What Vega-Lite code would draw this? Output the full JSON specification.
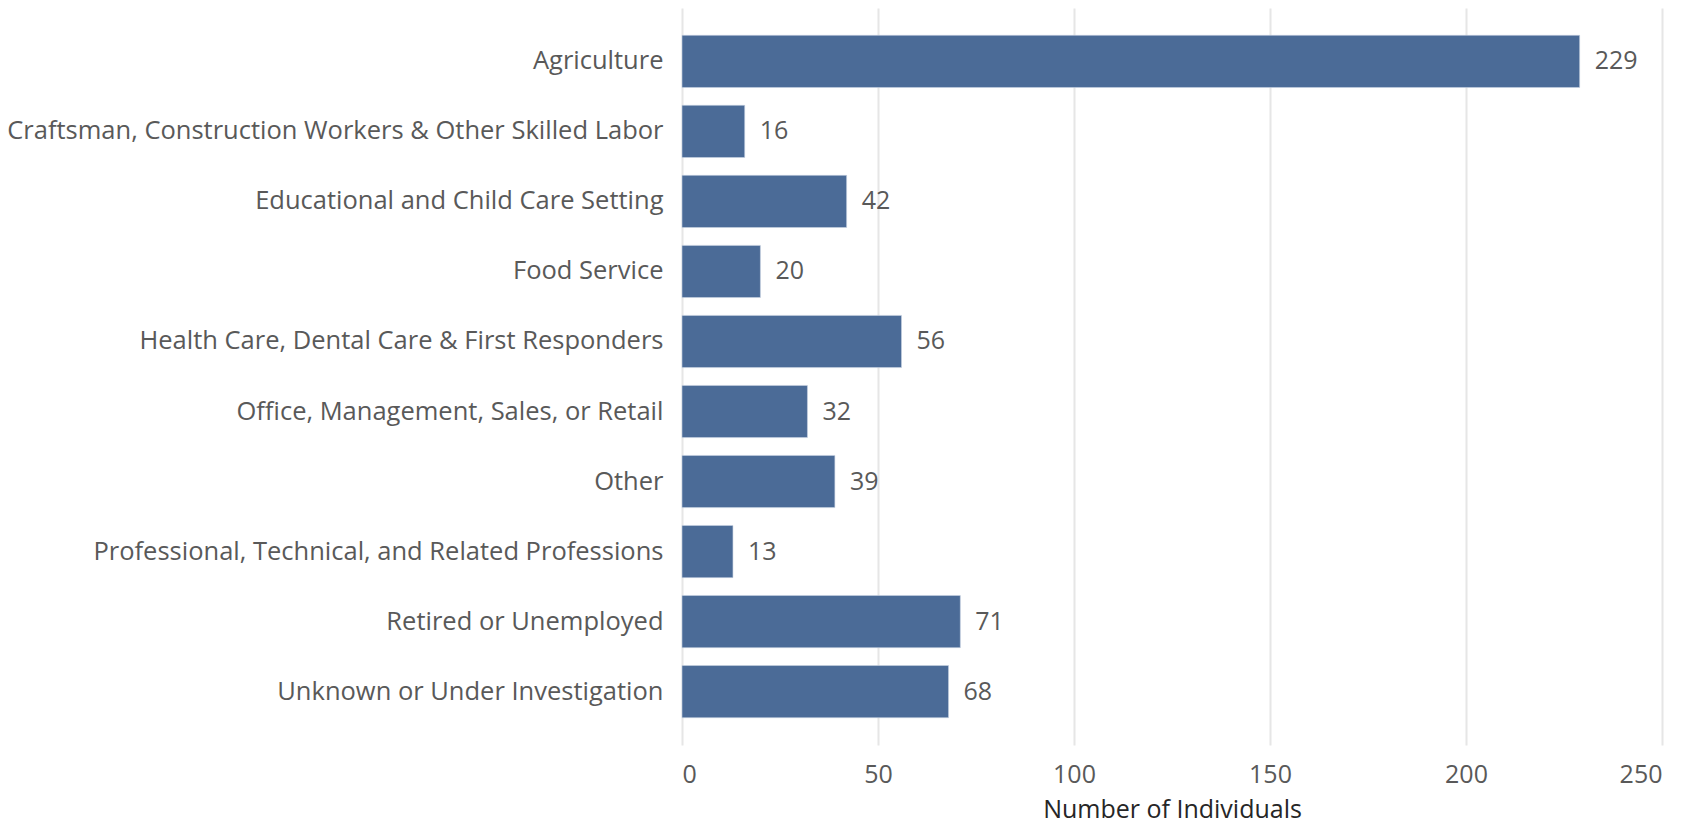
{
  "$schema": "https://vega.github.io/schema/vega-lite/v6.json",
  "autosize": {"type": "none"},
  "padding": {"left": 682, "top": 8, "right": 38, "bottom": 80},
  "width": 980,
  "height": 737,
  "background": "white",
  "config": {
    "view": {"stroke": null},
    "font": "Open Sans"
  },
  "data": {
    "values": [
      {"category": "Agriculture", "count": 229},
      {"category": "Craftsman, Construction Workers & Other Skilled Labor", "count": 16},
      {"category": "Educational and Child Care Setting", "count": 42},
      {"category": "Food Service", "count": 20},
      {"category": "Health Care, Dental Care & First Responders", "count": 56},
      {"category": "Office, Management, Sales, or Retail", "count": 32},
      {"category": "Other", "count": 39},
      {"category": "Professional, Technical, and Related Professions", "count": 13},
      {"category": "Retired or Unemployed", "count": 71},
      {"category": "Unknown or Under Investigation", "count": 68}
    ]
  },
  "encoding": {
    "y": {
      "field": "category",
      "type": "nominal",
      "sort": null,
      "scale": {"paddingInner": 0.255, "paddingOuter": 0.39},
      "axis": {
        "title": null,
        "domain": false,
        "ticks": false,
        "labelPadding": 19,
        "labelFontSize": 25.5,
        "labelColor": "#595959",
        "labelFont": "Open Sans",
        "labelLimit": 900
      }
    },
    "x": {
      "field": "count",
      "type": "quantitative",
      "scale": {"domain": [0, 250], "nice": false},
      "axis": {
        "title": "Number of Individuals",
        "titleFontSize": 25,
        "titleFontWeight": "normal",
        "titleColor": "#262626",
        "titlePadding": 10,
        "values": [0, 50, 100, 150, 200, 250],
        "domain": false,
        "ticks": false,
        "labelPadding": 17,
        "labelFontSize": 25,
        "labelColor": "#595959",
        "gridColor": "#e6e6e6",
        "gridWidth": 2,
        "grid": true
      }
    }
  },
  "layer": [
    {
      "mark": {"type": "bar", "color": "#4b6b97", "stroke": "#c9d3e2", "strokeWidth": 0.6}
    },
    {
      "mark": {"type": "text", "align": "left", "baseline": "middle", "dx": 15, "fontSize": 25, "color": "#595959"},
      "encoding": {"text": {"field": "count", "type": "quantitative"}}
    }
  ]
}
